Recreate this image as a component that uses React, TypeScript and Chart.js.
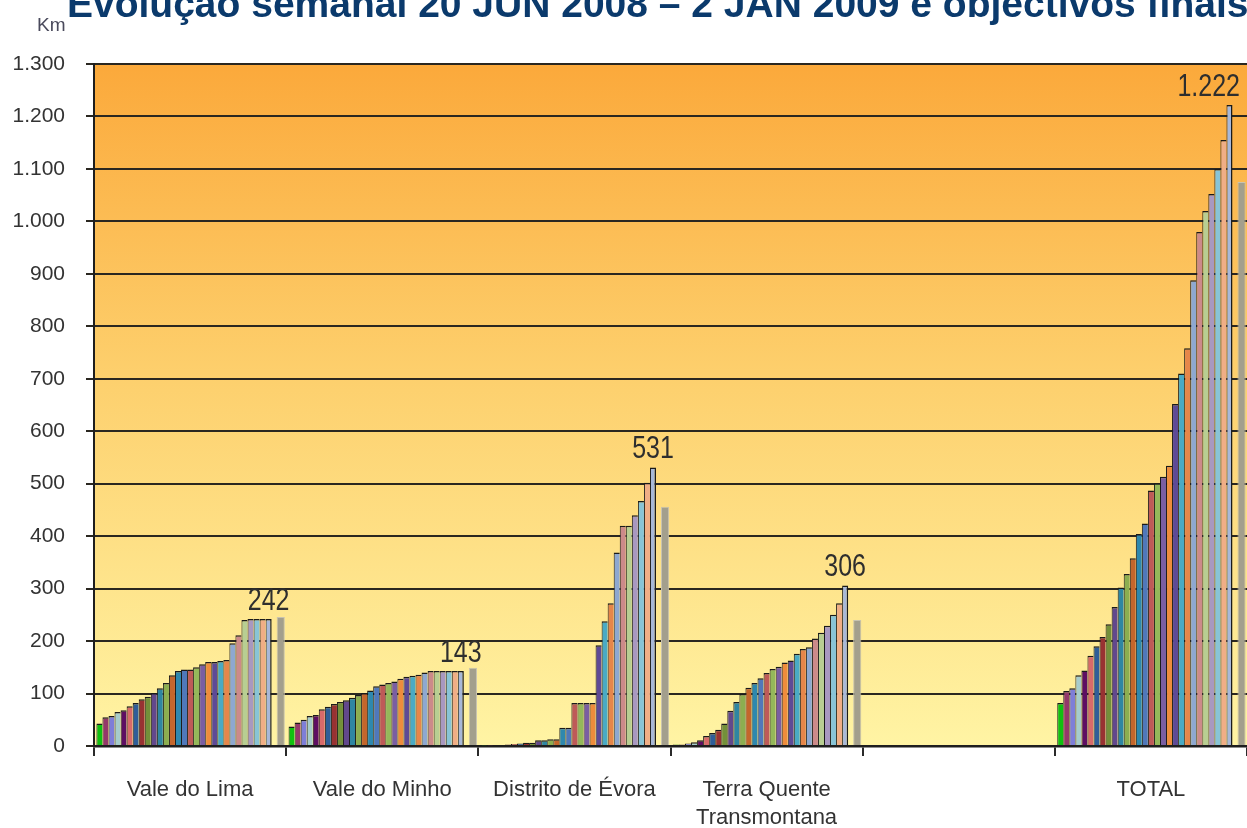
import React, { useEffect, useRef } from 'react';
import { Chart, registerables } from 'chart.js';

Chart.register(...registerables);

const categories: (string | string[])[] = [
  'Vale do Lima',
  'Vale do Minho',
  'Distrito de Évora',
  ['Terra Quente', 'Transmontana'],
  '',
  'TOTAL',
];

const weeks = [
  '20 JUN 2008', '27 JUN 2008', '4 JUL 2008', '11 JUL 2008', '18 JUL 2008', '25 JUL 2008',
  '1 AGO 2008', '8 AGO 2008', '15 AGO 2008', '22 AGO 2008', '29 AGO 2008', '5 SET 2008',
  '12 SET 2008', '19 SET 2008', '26 SET 2008', '3 OUT 2008', '10 OUT 2008', '17 OUT 2008',
  '24 OUT 2008', '31 OUT 2008', '7 NOV 2008', '14 NOV 2008', '21 NOV 2008', '28 NOV 2008',
  '5 DEZ 2008', '12 DEZ 2008', '19 DEZ 2008', '26 DEZ 2008', '2 JAN 2009',
];

const valeDoLima = [43, 55, 57, 65, 68, 76, 82, 89, 94, 101, 110, 120, 135, 143, 146, 146, 150, 156, 160, 160, 162, 164, 196, 211, 240, 242, 242, 242, 242];
const valeDoMinho = [37, 45, 50, 57, 59, 70, 75, 80, 84, 87, 92, 97, 101, 106, 114, 117, 120, 123, 128, 132, 134, 136, 140, 143, 143, 143, 143, 143, 143];
const distritoEvora = [1, 1, 2, 2, 3, 4, 5, 6, 6, 11, 11, 13, 13, 35, 35, 82, 82, 82, 82, 192, 238, 272, 369, 420, 420, 440, 467, 502, 531];
const terraQuente = [3, 3, 5, 7, 11, 19, 25, 31, 43, 67, 84, 99, 111, 120, 129, 139, 147, 151, 159, 163, 176, 185, 188, 205, 216, 229, 250, 272, 306];
const emptyCategory = [0, 0, 0, 0, 0, 0, 0, 0, 0, 0, 0, 0, 0, 0, 0, 0, 0, 0, 0, 0, 0, 0, 0, 0, 0, 0, 0, 0, 0];
const total = [82, 105, 110, 135, 144, 172, 190, 208, 232, 265, 302, 328, 358, 404, 424, 487, 501, 513, 534, 652, 710, 758, 888, 980, 1020, 1052, 1100, 1155, 1222];

const objectives = [246, 149, 456, 240, 0, 1075];
const labelledCategories = [0, 1, 2, 3, 5];

const weekColors = [
  '#10C010', '#94386A', '#7E7ED8', '#A6CCCC', '#5E0E62', '#D86A6A', '#2F5E98', '#983232',
  '#73903A', '#62488C', '#2F86A2', '#8CAE50', '#C4662C', '#2E88AE', '#5078BA', '#BE5A58',
  '#94B85A', '#7A5EA2', '#EE8C3C', '#5E4A96', '#4AAAC4', '#E6864A', '#8EA8D0', '#CC8A8A',
  '#B8CE92', '#A898C0', '#88C4D6', '#F0AE86', '#A8B8D8',
];

const FONT = "'Liberation Sans', Arial, sans-serif";

const fmt = (v: number) => String(v).replace(/\B(?=(\d{3})+(?!\d))/g, '.');

const backgroundPlugin = {
  id: 'plotBackground',
  beforeDraw(chart: any) {
    const { ctx, chartArea } = chart;
    if (!chartArea) return;
    const g = ctx.createLinearGradient(0, chartArea.top, 0, chartArea.bottom);
    g.addColorStop(0, '#FBA93B');
    g.addColorStop(0.45, '#FDCF6C');
    g.addColorStop(1, '#FFF4A4');
    ctx.save();
    ctx.fillStyle = g;
    ctx.fillRect(chartArea.left, chartArea.top, chartArea.right - chartArea.left, chartArea.bottom - chartArea.top);
    ctx.restore();
  },
};

const textPlugin = {
  id: 'texts',
  afterDraw(chart: any) {
    const { ctx } = chart;
    ctx.save();
    // Title
    ctx.font = `bold 39px ${FONT}`;
    ctx.fillStyle = '#0B3A6C';
    ctx.textAlign = 'left';
    ctx.textBaseline = 'alphabetic';
    ctx.fillText('Evolução semanal 20 JUN 2008 – 2 JAN 2009 e objectivos finais', 67, 17);
    // Unit
    ctx.font = `19px ${FONT}`;
    ctx.fillStyle = '#4A4A5C';
    ctx.fillText('Km', 37, 31);
    // Value labels over the last week
    const meta = chart.getDatasetMeta(weeks.length - 1);
    ctx.font = `25px ${FONT}`;
    ctx.fillStyle = '#2E2E2E';
    ctx.textAlign = 'center';
    ctx.textBaseline = 'alphabetic';
    labelledCategories.forEach((ci) => {
      const el = meta.data[ci];
      if (!el) return;
      const txt = fmt(chart.data.datasets[weeks.length - 1].data[ci]);
      const w = ctx.measureText(txt).width;
      const x = Math.min(el.x, chart.width - 7 - w / 2);
      const y = el.y - 9;
      ctx.save();
      ctx.translate(x, y);
      ctx.scale(1, 1.22);
      ctx.fillText(txt, 0, 0);
      ctx.restore();
    });
    ctx.restore();
  },
};

export default function App() {
  const ref = useRef<HTMLCanvasElement | null>(null);

  useEffect(() => {
    if (!ref.current) return;
    const weekDatasets = weeks.map((w, i) => ({
      label: w,
      data: [valeDoLima[i], valeDoMinho[i], distritoEvora[i], terraQuente[i], emptyCategory[i], total[i]],
      backgroundColor: weekColors[i],
      borderColor: '#1A1A1A',
      borderWidth: { top: 1.5, left: 1, right: i === weeks.length - 1 ? 1.5 : 0, bottom: 0 },
      borderSkipped: false as const,
      barPercentage: 1,
      categoryPercentage: 0.975,
    }));
    const spacer = {
      label: '',
      data: categories.map(() => null),
      backgroundColor: 'rgba(0,0,0,0)',
      barPercentage: 1,
      categoryPercentage: 0.975,
    };
    const objective = {
      label: 'Objectivo final',
      data: objectives,
      backgroundColor: '#A39F8D',
      borderColor: '#C8C3B0',
      borderWidth: 1,
      barPercentage: 1.35,
      categoryPercentage: 0.975,
    };

    const chart = new Chart(ref.current, {
      type: 'bar',
      data: {
        labels: categories as any,
        datasets: [...weekDatasets, spacer, objective] as any,
      },
      options: {
        animation: false,
        responsive: false,
        maintainAspectRatio: false,
        layout: { padding: { top: 64, left: 0, right: 0, bottom: 0 } },
        plugins: {
          legend: { display: false },
          tooltip: { enabled: false },
          title: { display: false },
        },
        scales: {
          x: {
            offset: true,
            grid: {
              display: true,
              offset: true,
              drawOnChartArea: false,
              drawTicks: true,
              tickLength: 10,
              color: '#2A2A2A',
              lineWidth: 2,
            },
            border: { display: true, color: '#1E1E1E', width: 2.5 },
            ticks: {
              color: '#333333',
              font: { family: FONT, size: 22, lineHeight: 1.27 },
              padding: 20,
              maxRotation: 0,
              autoSkip: false,
            },
            afterFit: (s: any) => {
              s.height = 82;
            },
          },
          y: {
            min: 0,
            max: 1300,
            grid: {
              color: '#2A2720',
              lineWidth: 2,
              tickLength: 8,
              drawTicks: true,
            },
            border: { display: true, color: '#1E1E1E', width: 2 },
            ticks: {
              stepSize: 100,
              color: '#333333',
              font: { family: FONT, size: 21 },
              padding: 21,
              callback: (v: any) => fmt(Number(v)),
            },
            afterFit: (s: any) => {
              s.width = 94;
            },
          },
        },
      },
      plugins: [backgroundPlugin, textPlugin],
    });
    return () => chart.destroy();
  }, []);

  return (
    <div style={{ position: 'fixed', left: 0, top: 0, width: 1247, height: 828, background: '#ffffff' }}>
      <canvas ref={ref} width={1247} height={828} style={{ display: 'block' }} />
    </div>
  );
}
